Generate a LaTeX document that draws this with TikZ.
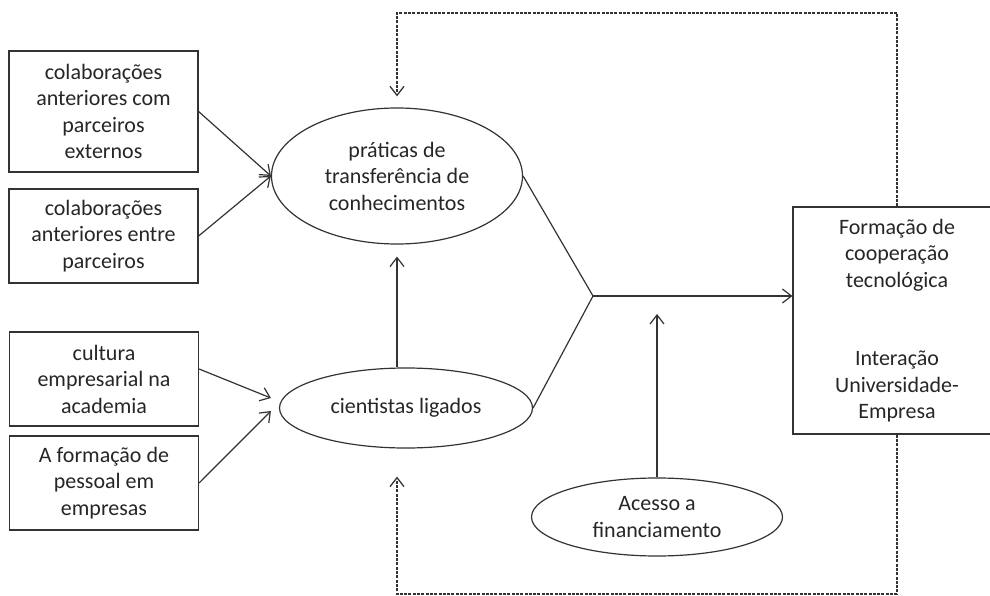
\documentclass[tikz,border=0pt]{standalone}
\usepackage{fontspec}
\setmainfont{Carlito}
\usetikzlibrary{positioning,calc,arrows.meta,shapes.geometric}
\tikzset{>={Straight Barb[length=9pt,width=14pt]}}
\tikzset{box/.style={draw=black!80,line width=1.2pt,rectangle,inner sep=0pt,minimum width=189pt,align=center,text=black!85,font=\fontsize{22}{26.5}\selectfont},
  oval/.style={box,ellipse},
  link/.style={draw=black!80,line width=1.2pt},
  feedback/.style={link,line width=1.3pt,dash pattern=on 3pt off 1.3pt}}

\begin{document}
\begin{tikzpicture}[x=1pt,y=-1pt]
\useasboundingbox (0,0) rectangle (990,596);
\clip (0,0) rectangle (990,596);
\node[box,minimum height=121pt] (ext) at (103.5,111.5) {colaborações\\anteriores com\\parceiros\\externos};
\node[box,minimum height=94pt] (prev) at (103.5,236) {colaborações\\anteriores entre\\parceiros};
\node[box,minimum height=94pt] (cult) at (104,379) {cultura\\empresarial na\\academia};
\node[box,minimum height=94pt] (staff) at (104,483) {A formação de\\pessoal em\\empresas};
\node[oval,minimum width=251pt,minimum height=136pt] (tk) at (397,176) {práticas de\\transferência de\\conhecimentos};
\node[oval,minimum width=253pt,minimum height=80pt] (sci) at (406,408) {cientistas ligados};
\node[oval,minimum width=251pt,minimum height=78pt] (fin) at (657,517) {Acesso a\\financiamento};
\node[box,minimum width=208pt,minimum height=227pt] (coop) at (897,320.5) {Formação de\\cooperação\\tecnológica\\[52pt]Interação\\Universidade-\\Empresa};
\coordinate (j) at (593,296);
\coordinate (top) at (0,13);
\coordinate (bot) at (0,594);
\draw[link,->] (ext.east) -- (tk.west);
\draw[link,->] (prev.east) -- (tk.west);
\draw[link,->] ([yshift=10pt]cult.east) -- ([shift={(-8pt,10pt)}]sci.west);
\draw[link,->] (staff.east) -- ([shift={(-8pt,-3pt)}]sci.west);
\draw[link,->,shorten >=12pt] (tk.south |- sci.north) -- (tk.south);
\draw[link] (tk.east) -- (j) -- (sci.east);
\draw[link,->] (j) -- (j -| coop.west);
\draw[link,->] (fin.north) -- ($(fin.north |- j)+(0,18)$);
\draw[feedback,->,shorten >=11pt] (coop.north) -- (coop.north |- top) -| (tk.north);
\draw[feedback,->] (coop.south) -- (coop.south |- bot) -| ($(tk.south |- sci.south)+(0,28)$);
\end{tikzpicture}
\end{document}
